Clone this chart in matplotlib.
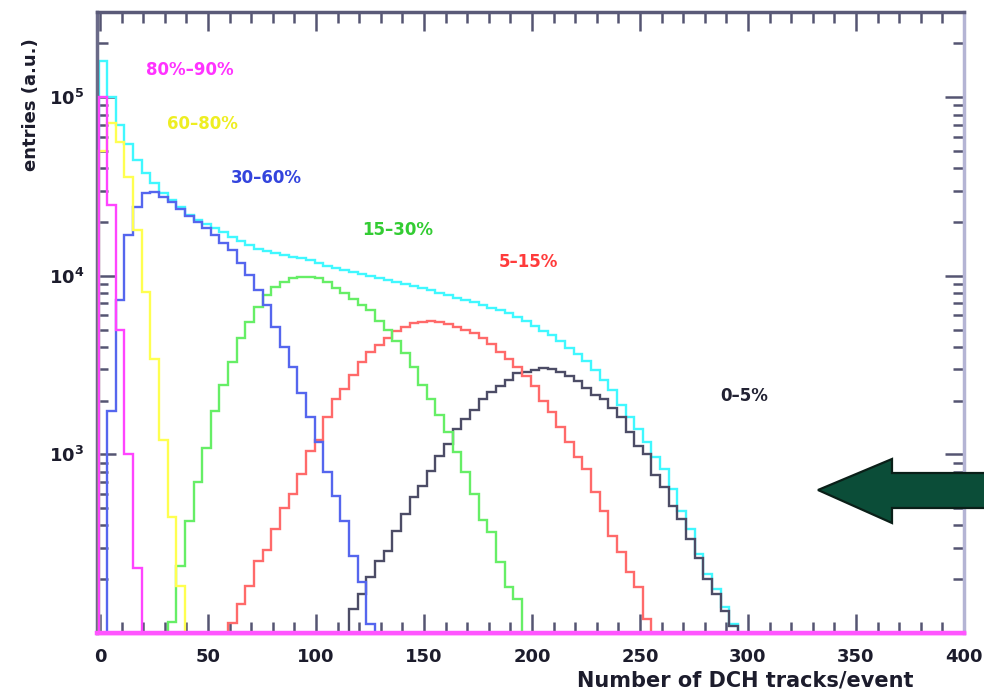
import numpy as np
import matplotlib
matplotlib.use('Agg')
import matplotlib.pyplot as plt
from matplotlib.patches import Polygon
from matplotlib.ticker import MultipleLocator, LogLocator, NullFormatter

# ---------------- data ----------------
bin_width = 4.0
bin_edges = np.arange(-0.7, 400.0, bin_width)   # 101 edges -> 100 bins

labels = ["80%–90%", "60–80%", "30–60%", "15–30%", "5–15%", "0–5%"]

total_first = 0
total_counts = [1.6e5, 1.0e5, 7.0e4, 5.5e4, 4.45e4, 3.76e4, 3.3e4, 2.9e4, 2.66e4, 2.43e4,
                2.2e4, 2.05e4, 1.95e4, 1.85e4, 1.76e4, 1.65e4, 1.57e4, 1.49e4, 1.42e4, 1.38e4,
                1.34e4, 1.31e4, 1.28e4, 1.26e4, 1.23e4, 1.18e4, 1.14e4, 1.11e4, 1.08e4, 1.05e4,
                1.03e4, 1.0e4, 9.7e3, 9.5e3, 9.25e3, 9.0e3, 8.8e3, 8.5e3, 8.35e3, 8.0e3,
                7.8e3, 7.5e3, 7.35e3, 7.1e3, 6.9e3, 6.6e3, 6.4e3, 6.2e3, 5.9e3, 5.6e3,
                5.25e3, 4.93e3, 4.68e3, 4.33e3, 3.96e3, 3.66e3, 3.35e3, 2.98e3, 2.62e3, 2.28e3,
                1.9e3, 1.61e3, 1.38e3, 1.17e3, 961, 824, 637, 481, 381, 276,
                214, 176, 140, 112]

c8090_first = 0
c8090_counts = [1.0e5, 2.5e4, 5.0e3, 1.0e3, 230]

c6080_first = 0
c6080_counts = [5.0e4, 7.2e4, 5.6e4, 3.57e4, 1.8e4, 8.1e3, 3.4e3, 1.2e3, 445, 183]

c3060_first = 1
c3060_counts = [1.74e3, 7.3e3, 1.69e4, 2.43e4, 2.91e4, 2.93e4, 2.76e4, 2.59e4, 2.37e4, 2.16e4,
                2.0e4, 1.85e4, 1.69e4, 1.53e4, 1.40e4, 1.18e4, 1.01e4, 8.35e3, 6.9e3, 5.19e3,
                4.0e3, 3.1e3, 2.22e3, 1.61e3, 1.17e3, 793, 582, 423, 269, 193, 112]

c1530_first = 8
c1530_counts = [115, 237, 423, 698, 1.09e3, 1.74e3, 2.46e3, 3.31e3, 4.51e3, 5.53e3,
                6.71e3, 7.83e3, 8.68e3, 9.25e3, 9.75e3, 9.87e3, 9.87e3, 9.75e3, 9.25e3, 8.5e3,
                8.0e3, 7.4e3, 6.9e3, 6.4e3, 5.6e3, 5.0e3, 4.3e3, 3.7e3, 3.1e3, 2.46e3,
                2.05e3, 1.67e3, 1.34e3, 1.03e3, 793, 598, 428, 366, 250, 181, 155]

c0515_first = 15
c0515_counts = [114, 145, 183, 252, 291, 381, 499, 598, 773, 1.04e3,
                1.21e3, 1.61e3, 2.03e3, 2.31e3, 2.80e3, 3.31e3, 3.76e3, 4.12e3, 4.51e3, 4.93e3,
                5.19e3, 5.46e3, 5.53e3, 5.6e3, 5.53e3, 5.4e3, 5.19e3, 4.99e3, 4.81e3, 4.51e3,
                4.17e3, 3.76e3, 3.40e3, 3.1e3, 2.76e3, 2.40e3, 2.0e3, 1.72e3, 1.42e3, 1.18e3,
                961, 824, 613, 481, 348, 284, 219, 181, 120]

c0005_first = 29
c0005_counts = [136, 165, 206, 252, 287, 372, 462, 575, 663, 803,
                975, 1.14e3, 1.38e3, 1.57e3, 1.78e3, 2.03e3, 2.25e3, 2.43e3, 2.62e3, 2.84e3,
                2.88e3, 2.98e3, 3.06e3, 3.02e3, 2.91e3, 2.76e3, 2.59e3, 2.34e3, 2.16e3, 2.03e3,
                1.83e3, 1.61e3, 1.33e3, 1.11e3, 1.0e3, 764, 655, 512, 433, 335,
                262, 200, 165, 133, 109]

x_ticks = [0, 50, 100, 150, 200, 250, 300, 350, 400]
y_ticks = [1e3, 1e4, 1e5]
y_tick_labels = [r'$\mathbf{10^{3}}$', r'$\mathbf{10^{4}}$', r'$\mathbf{10^{5}}$']

# ---------------- figure ----------------
W, H = 984, 693
fig = plt.figure(figsize=(W / 100, H / 100), dpi=100)
fig.patch.set_facecolor('white')
ax = fig.add_axes([97 / W, 60 / H, (964 - 97) / W, (633 - 12) / H])
ax.set_yscale('log')
ax.set_xlim(-1.4, 400)
ax.set_ylim(100, 3.0e5)

nb = len(bin_edges) - 1
FLOOR = 1e-2


def full(first, counts):
    arr = np.full(nb, FLOOR)
    arr[first:first + len(counts)] = counts
    return arr


series = [
    (total_first, total_counts, '#40f8ff', 2),
    (c0005_first, c0005_counts, '#4c4c66', 3),
    (c0515_first, c0515_counts, '#ff6a6a', 4),
    (c1530_first, c1530_counts, '#66ee66', 5),
    (c3060_first, c3060_counts, '#5566ee', 6),
    (c6080_first, c6080_counts, '#ffff50', 7),
    (c8090_first, c8090_counts, '#ff44ff', 8),
]
for first, counts, col, z in series:
    ax.stairs(full(first, counts), bin_edges, baseline=FLOOR, color=col,
              linewidth=1.7, zorder=z)

# magenta line along bottom
ax.axhline(100, color='#ff55ff', lw=3.2, zorder=9, clip_on=False)

# ---------------- axes styling ----------------
for side, col in [('top', '#5a5a78'), ('left', '#6a6a88'), ('right', '#b4b4d4'), ('bottom', '#ff55ff')]:
    ax.spines[side].set_color(col)
    ax.spines[side].set_linewidth(2.5)

ax.set_xticks(x_ticks)
ax.xaxis.set_minor_locator(MultipleLocator(10))
ax.set_yticks(y_ticks, labels=y_tick_labels)
ax.yaxis.set_minor_locator(LogLocator(base=10, subs=np.arange(2, 10)))
ax.yaxis.set_minor_formatter(NullFormatter())

ax.tick_params(which='both', direction='in', top=True, right=True, color='#555572', width=1.8)
ax.tick_params(which='major', length=14)
ax.tick_params(which='minor', length=8)
ax.tick_params(axis='x', which='major', labelsize=13, pad=11, labelcolor='#1c1c2c')
ax.tick_params(axis='y', which='major', labelsize=13, pad=9, labelcolor='#1c1c2c')
for t in ax.get_xticklabels():
    t.set_fontweight('bold')

# ---------------- texts ----------------
def ftext(px, py, s, color, size=12, **kw):
    fig.text(px / W, 1 - py / H, s, color=color, fontsize=size, fontweight='bold',
             ha='center', va='center', **kw)

ftext(190, 70, labels[0], '#ff33ff')
ftext(202, 124, labels[1], '#eeee22')
ftext(266, 178, labels[2], '#3344dd')
ftext(398, 230, labels[3], '#33cc33')
ftext(528, 262, labels[4], '#ff3b3b')
ftext(744, 396, labels[5], '#222233')

ftext(31, 105, 'entries (a.u.)', '#1c1c2c', size=13, rotation=90)
ftext(745, 680, 'Number of DCH tracks/event', '#1c1c2c', size=15)

# ---------------- arrow decoration ----------------
arrow_px = [(818, 490), (892, 459), (892, 473), (990, 473), (990, 508), (892, 508), (892, 523)]
arrow = Polygon([(x / W, 1 - y / H) for x, y in arrow_px], closed=True,
                transform=fig.transFigure, facecolor='#0b4d38', edgecolor='#0a1f18',
                linewidth=1.6, zorder=20)
fig.patches.append(arrow)

fig.savefig('out.png', dpi=100, facecolor='white')
